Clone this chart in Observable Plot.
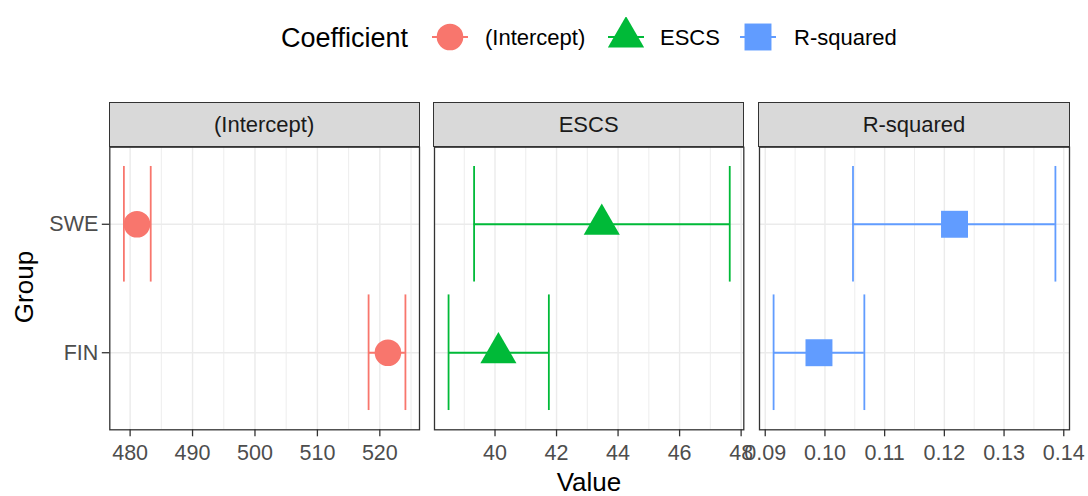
<!DOCTYPE html>
<html><head><meta charset="utf-8">
<script src="https://cdn.jsdelivr.net/npm/d3@7"></script>
<script src="https://cdn.jsdelivr.net/npm/@observablehq/plot@0.6"></script>
<style>
body{margin:0;background:#fff;font-family:"Liberation Sans",Arial,sans-serif;}
#chart{position:relative;width:1088px;height:496px;overflow:hidden;background:#fff;}
.abs{position:absolute;white-space:nowrap;}
.strip{position:absolute;box-sizing:border-box;background:#d9d9d9;border:1.3px solid #333;display:flex;align-items:center;justify-content:center;font-size:22px;color:#1a1a1a;}
.svgwrap{position:absolute;top:0;}
</style></head><body><div id="chart"></div>
<script>
// ---- data ----
const coefficients = ["(Intercept)", "ESCS", "R-squared"];
const groups = ["FIN", "SWE"]; // bottom to top
const coefColors = ["#F8766D", "#00BA38", "#619CFF"];
const coefSymbols = ["circle", "triangle", "square"];

const interceptEst   = [521.3, 481.1];
const interceptLower = [518.2, 479.0];
const interceptUpper = [524.1, 483.3];

const escsEst   = [40.11, 43.47];
const escsLower = [38.49, 39.32];
const escsUpper = [41.75, 47.63];

const rsqEst   = [0.0990, 0.1217];
const rsqLower = [0.0914, 0.1047];
const rsqUpper = [0.1066, 0.1386];

const interceptTicks = [480, 490, 500, 510, 520];
const interceptMinor = [485, 495, 505, 515, 525];
const escsTicks = [40, 42, 44, 46, 48];
const escsMinor = [39, 41, 43, 45, 47];
const rsqTicks = [0.09, 0.10, 0.11, 0.12, 0.13, 0.14];
const rsqMinor = [0.095, 0.105, 0.115, 0.125, 0.135];

// ---- layout ----
const chart = document.getElementById("chart");
const FONT = '"Liberation Sans", Arial, sans-serif';
const panelTop = 146.7, panelBottom = 429.3, H = 496;
const panels = [
  {est: interceptEst, lo: interceptLower, hi: interceptUpper, ticks: interceptTicks, minor: interceptMinor, fmt: d3.format("d"),
   svgLeft: 0, svgWidth: 426, mLeft: 109.3, mRight: 7, r: 13.3, yAxis: true},
  {est: escsEst, lo: escsLower, hi: escsUpper, ticks: escsTicks, minor: escsMinor, fmt: d3.format("d"),
   svgLeft: 426, svgWidth: 325, mLeft: 8, mRight: 7.7, r: 13.4, yAxis: false},
  {est: rsqEst, lo: rsqLower, hi: rsqUpper, ticks: rsqTicks, minor: rsqMinor, fmt: d3.format(".2f"),
   svgLeft: 751, svgWidth: 337, mLeft: 8, mRight: 19, r: 15.2, yAxis: false}
];

panels.forEach((p, k) => {
  const color = coefColors[k];
  const data = groups.map((g, j) => ({group: g, yi: j + 1, est: p.est[j], lo: p.lo[j], hi: p.hi[j]}));
  const mn = d3.min(p.lo), mx = d3.max(p.hi), pad = (mx - mn) * 0.05;
  const marks = [
    Plot.gridX(p.minor, {stroke: "#ebebeb", strokeOpacity: 1, strokeWidth: 0.9}),
    Plot.gridX(p.ticks, {stroke: "#ebebeb", strokeOpacity: 1, strokeWidth: 1.4}),
    Plot.gridY(data.map(d => d.yi), {stroke: "#ebebeb", strokeOpacity: 1, strokeWidth: 1.4}),
    Plot.ruleY(data, {y: "yi", x1: "lo", x2: "hi", stroke: color, strokeWidth: 1.8}),
    Plot.ruleX(data, {x: "lo", y1: d => d.yi - 0.45, y2: d => d.yi + 0.45, stroke: color, strokeWidth: 1.8}),
    Plot.ruleX(data, {x: "hi", y1: d => d.yi - 0.45, y2: d => d.yi + 0.45, stroke: color, strokeWidth: 1.8}),
    Plot.dot(data, {x: "est", y: "yi", symbol: () => coefSymbols[k], r: p.r, fill: color, stroke: "none"}),
    Plot.frame({stroke: "#333333", strokeWidth: 1.3}),
    Plot.axisX(p.ticks, {tickSize: 7, tickPadding: 8, tickFormat: p.fmt, fontSize: 21.5, fill: "#4d4d4d", stroke: "#333333", strokeWidth: 1.3, label: null})
  ];
  if (p.yAxis) {
    marks.push(Plot.axisY(data.map(d => d.yi), {tickSize: 7.5, tickPadding: 4, tickFormat: i => groups[i - 1], fontSize: 21.5, fill: "#4d4d4d", stroke: "#333333", strokeWidth: 1.3, label: null}));
  }
  const svg = Plot.plot({
    width: p.svgWidth, height: H,
    marginLeft: p.mLeft, marginRight: p.mRight, marginTop: panelTop, marginBottom: H - panelBottom,
    x: {domain: [mn - pad, mx + pad]},
    y: {domain: [0.4, 2.6], axis: p.yAxis ? undefined : null},
    style: {background: "transparent", overflow: "visible", fontFamily: FONT},
    marks
  });
  const wrap = document.createElement("div");
  wrap.className = "svgwrap";
  wrap.style.left = p.svgLeft + "px";
  wrap.appendChild(svg);
  chart.appendChild(wrap);

  const strip = document.createElement("div");
  strip.className = "strip";
  const left = p.svgLeft + p.mLeft, right = p.svgLeft + p.svgWidth - p.mRight;
  strip.style.left = (left - 0.6) + "px";
  strip.style.width = (right - left + 1.2) + "px";
  strip.style.top = "101.7px";
  strip.style.height = (panelTop - 101.7 + 0.7) + "px";
  strip.textContent = coefficients[k];
  chart.appendChild(strip);
});

// axis titles
function addText(txt, x, y, size, opts = {}) {
  const d = document.createElement("div");
  d.className = "abs";
  d.textContent = txt;
  d.style.fontSize = size + "px";
  d.style.lineHeight = size + "px";
  d.style.color = opts.color || "#000";
  d.style.left = x + "px";
  d.style.top = y + "px";
  d.style.transform = (opts.anchor === "start" ? "translate(0,-50%)" : "translate(-50%,-50%)") + (opts.rotate ? " rotate(-90deg)" : "");
  chart.appendChild(d);
  return d;
}
addText("Value", 589, 482, 26);
addText("Group", 24, 287, 26, {rotate: true});

// legend
addText("Coefficient", 281, 38, 27, {anchor: "start"});
const keyCenters = [450, 626, 758];
const labelLefts = [485, 660, 794];
const keyRadii = [13.3, 13.4, 15.2];
coefficients.forEach((c, k) => {
  const kw = 36, kh = 40;
  const s = d3.create("svg").attr("width", kw).attr("height", kh)
    .style("position", "absolute").style("left", (keyCenters[k] - kw / 2) + "px").style("top", (37 - kh / 2) + "px");
  s.append("line").attr("x1", 0).attr("x2", kw).attr("y1", kh / 2).attr("y2", kh / 2)
    .attr("stroke", coefColors[k]).attr("stroke-width", 1.8);
  const sym = [d3.symbolCircle, d3.symbolTriangle, d3.symbolSquare][k];
  s.append("path").attr("transform", `translate(${kw / 2},${kh / 2})`)
    .attr("d", d3.symbol(sym, Math.PI * keyRadii[k] * keyRadii[k])())
    .attr("fill", coefColors[k]);
  chart.appendChild(s.node());
  addText(c, labelLefts[k], 38, 22, {anchor: "start", color: "#000"});
});
</script></body></html>
